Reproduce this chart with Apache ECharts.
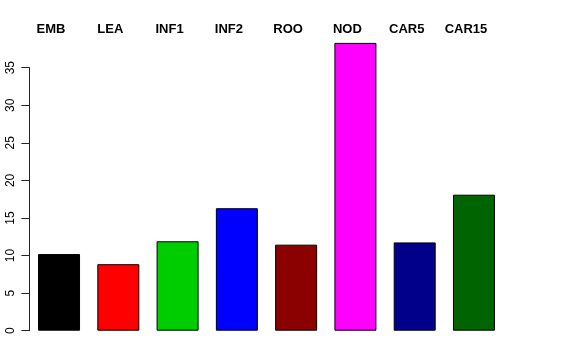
<!DOCTYPE html>
<html>
<head>
<meta charset="utf-8">
<script src="https://cdn.jsdelivr.net/npm/echarts@6/dist/echarts.min.js"></script>
<style>html,body{margin:0;padding:0;background:#fff}#c{width:576px;height:360px}</style>
</head>
<body>
<div id="c"></div>
<script>
var categories = ['EMB', 'LEA', 'INF1', 'INF2', 'ROO', 'NOD', 'CAR5', 'CAR15'];
var values = [10.2, 8.85, 11.9, 16.3, 11.45, 38.3, 11.75, 18.1];
var barColors = ['#000000', '#FF0000', '#00CD00', '#0000FF', '#8B0000', '#FF00FF', '#00008B', '#006400'];
var yTicks = [0, 5, 10, 15, 20, 25, 30, 35];

var chart = echarts.init(document.getElementById('c'), null, {renderer: 'canvas'});
chart.setOption({
  animation: false,
  backgroundColor: '#ffffff',
  grid: {left: 29.4, right: 72.4, top: 67.7, bottom: 29.3, containLabel: false},
  xAxis: [{
    type: 'category', data: categories, position: 'bottom',
    axisLine: {show: false}, axisTick: {show: false}, axisLabel: {show: false}
  }, {
    type: 'category', data: categories, position: 'top',
    axisLine: {show: false}, axisTick: {show: false},
    axisLabel: {
      show: true, interval: 0, margin: 38.7, verticalAlign: 'middle',
      padding: [0, 16, 0, 0],
      fontFamily: 'Liberation Sans, Arial, sans-serif', fontWeight: 'bold', fontSize: 13, color: '#000'
    }
  }],
  yAxis: {
    type: 'value', min: yTicks[0], max: yTicks[yTicks.length - 1], interval: 5,
    splitLine: {show: false},
    axisLine: {show: true, lineStyle: {color: '#222', width: 1}},
    axisTick: {show: true, length: 8, lineStyle: {color: '#222'}},
    axisLabel: {
      rotate: 90, margin: 13, color: '#000', fontSize: 12,
      fontFamily: 'Liberation Sans, Arial, sans-serif'
    }
  },
  series: [{
    type: 'bar', xAxisIndex: 0, clip: false, barWidth: 42,
    data: values.map(function (v, i) {
      return {value: v, itemStyle: {color: barColors[i]}};
    }),
    itemStyle: {borderColor: '#000', borderWidth: 1}
  }]
});
</script>
</body>
</html>
